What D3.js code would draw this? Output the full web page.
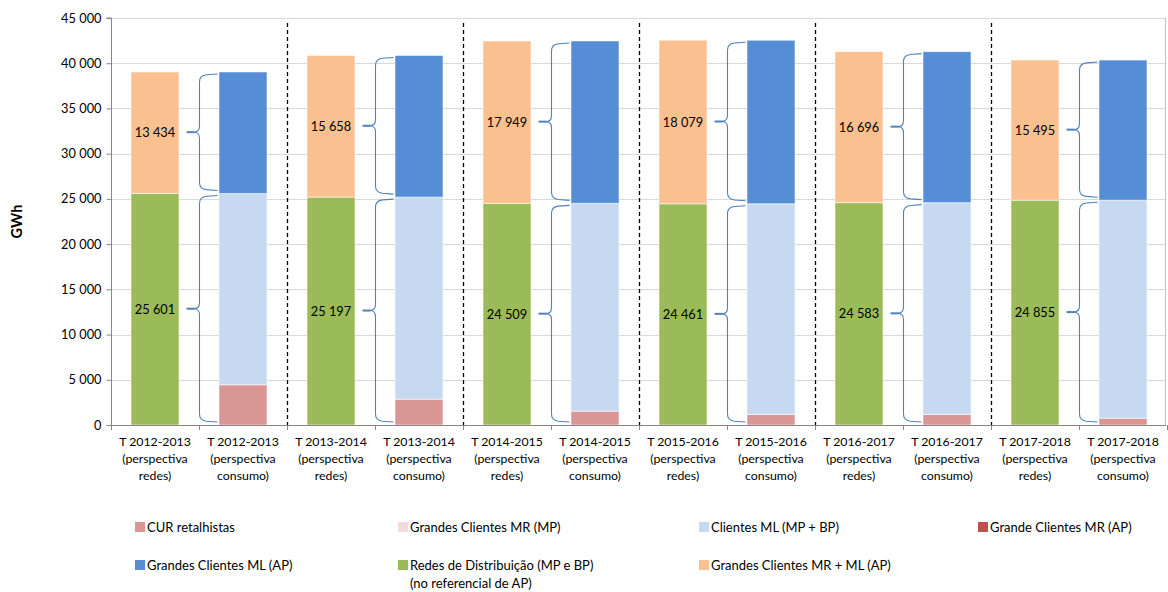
<!DOCTYPE html>
<html>
<head>
<meta charset="utf-8">
<script src="https://cdn.jsdelivr.net/npm/d3@7"></script>
<style>
  html, body { margin: 0; padding: 0; background: #fff; }
  svg { display: block; font-family: Lato, "Noto Sans", sans-serif; }
</style>
</head>
<body>
<svg id="chart" width="1168" height="592"></svg>
<script>
// Tariff periods
const periods = ["2012-2013", "2013-2014", "2014-2015", "2015-2016", "2016-2017", "2017-2018"];
// Network perspective (GWh)
const redesDistribuicao = [25601, 25197, 24509, 24461, 24583, 24855];
const grandesClientesMRML = [13434, 15658, 17949, 18079, 16696, 15495];
// Consumption perspective (GWh)
const curRetalhistas = [4450, 2850, 1530, 1160, 1160, 750];
const grandesClientesMRMP = [0, 0, 0, 0, 0, 0];
const clientesML = [21151, 22347, 22979, 23301, 23423, 24105];
const grandeClientesMRAP = [0, 0, 0, 0, 0, 0];
const grandesClientesMLAP = [13434, 15658, 17949, 18079, 16696, 15495];
// Axis ticks
const yTicks = [0, 5000, 10000, 15000, 20000, 25000, 30000, 35000, 40000, 45000];

const colors = {
  cur: "#D99694",
  mrmp: "#F2DCDB",
  ml: "#C6D9F1",
  mrap: "#C0504D",
  mlap: "#558ED5",
  redes: "#9BBB59",
  mrml: "#FAC090"
};

const legendItems = [
  { label: ["CUR retalhistas"], color: colors.cur },
  { label: ["Grandes Clientes MR (MP)"], color: colors.mrmp },
  { label: ["Clientes ML (MP + BP)"], color: colors.ml },
  { label: ["Grande Clientes MR (AP)"], color: colors.mrap },
  { label: ["Grandes Clientes ML (AP)"], color: colors.mlap },
  { label: ["Redes de Distribuição (MP e BP)", "(no referencial de AP)"], color: colors.redes },
  { label: ["Grandes Clientes MR + ML (AP)"], color: colors.mrml }
];

const svg = d3.select("#chart");
const plotLeft = 111, plotRight = 1167, plotTop = 18, plotBottom = 425;

// One category per perspective: redes then consumo for each period
const categories = [];
periods.forEach((p, i) => {
  categories.push({ key: p + "-r", period: p, kind: "redes", i });
  categories.push({ key: p + "-c", period: p, kind: "consumo", i });
});

const x = d3.scaleBand()
  .domain(categories.map(d => d.key))
  .range([plotLeft, plotRight])
  .paddingInner(0.4545)
  .paddingOuter(0.2273);
const step = x.step();
const y = d3.scaleLinear().domain([0, 45000]).range([plotBottom, plotTop]);
const fmt = v => d3.format(",")(v).replace(/,/g, " ");

// Gridlines
svg.append("g")
  .selectAll("line")
  .data(yTicks.filter(t => t > 0))
  .join("line")
  .attr("x1", plotLeft).attr("x2", plotRight - 1)
  .attr("y1", d => Math.round(y(d)) + 0.5).attr("y2", d => Math.round(y(d)) + 0.5)
  .attr("stroke", "#D9D9D9").attr("stroke-width", 1);

// Right border of plot area
svg.append("line")
  .attr("x1", plotRight - 1.5).attr("x2", plotRight - 1.5)
  .attr("y1", y(45000)).attr("y2", plotBottom)
  .attr("stroke", "#BFBFBF");

// Stacked bars
const stacks = [];
categories.forEach(c => {
  const i = c.i;
  const parts = c.kind === "redes"
    ? [["redes", redesDistribuicao[i]], ["mrml", grandesClientesMRML[i]]]
    : [["cur", curRetalhistas[i]], ["mrmp", grandesClientesMRMP[i]], ["ml", clientesML[i]],
       ["mrap", grandeClientesMRAP[i]], ["mlap", grandesClientesMLAP[i]]];
  let base = 0;
  parts.forEach(([k, v]) => {
    if (v > 0) stacks.push({ key: c.key, series: k, y0: base, y1: base + v });
    base += v;
  });
});

svg.append("g")
  .selectAll("rect")
  .data(stacks)
  .join("rect")
  .attr("x", d => x(d.key))
  .attr("width", x.bandwidth())
  .attr("y", d => y(d.y1))
  .attr("height", d => y(d.y0) - y(d.y1))
  .attr("fill", d => colors[d.series])
  .attr("stroke", "#ffffff")
  .attr("stroke-opacity", 0.55)
  .attr("stroke-width", 1);

// Dashed separators between periods
const sepX = d => Math.round(x(d + "-r") - (step - x.bandwidth()) / 2) + 0.5;
svg.append("g")
  .selectAll("line")
  .data(periods.slice(1))
  .join("line")
  .attr("x1", sepX)
  .attr("x2", sepX)
  .attr("y1", 23).attr("y2", plotBottom)
  .attr("stroke", "#000").attr("stroke-width", 1.3)
  .attr("stroke-dasharray", "4,3");

// Y axis
const yAxis = d3.axisLeft(y).tickValues(yTicks).tickSize(5).tickPadding(5).tickFormat(fmt);
const gy = svg.append("g").attr("transform", `translate(${plotLeft + 0.5},0)`).call(yAxis);
gy.select(".domain").attr("stroke", "#868686").attr("d", `M-5,${y(45000)}H0V${plotBottom}`);
gy.selectAll(".tick line").attr("stroke", "#868686");
gy.selectAll(".tick text").attr("font-size", 12.8).attr("fill", "#000")
  .attr("font-family", "Lato, sans-serif");

// X axis line and boundary ticks
const gx = svg.append("g");
gx.append("line").attr("x1", plotLeft).attr("x2", plotRight - 1)
  .attr("y1", plotBottom + 0.5).attr("y2", plotBottom + 0.5).attr("stroke", "#868686");
gx.selectAll("line.tk")
  .data(d3.range(categories.length + 1))
  .join("line").attr("class", "tk")
  .attr("x1", k => Math.round(plotLeft + k * step) + 0.5)
  .attr("x2", k => Math.round(plotLeft + k * step) + 0.5)
  .attr("y1", plotBottom).attr("y2", plotBottom + 5)
  .attr("stroke", "#868686");

// Category labels
const xl = svg.append("g").attr("font-size", 12.3).attr("fill", "#000").attr("text-anchor", "middle");
categories.forEach(c => {
  const cx = x(c.key) + x.bandwidth() / 2;
  const lines = ["T " + c.period, "(perspectiva", c.kind + ")"];
  lines.forEach((t, j) => {
    xl.append("text").attr("x", cx).attr("y", 446 + j * 17).text(t);
  });
});

// Y axis title
svg.append("text")
  .attr("transform", `translate(22,${(plotTop + plotBottom) / 2}) rotate(-90)`)
  .attr("text-anchor", "middle")
  .attr("font-size", 14.5).attr("font-weight", "bold").attr("fill", "#000")
  .text("GWh");

// Value labels inside the network bars
const labels = [];
periods.forEach((p, i) => {
  labels.push({ key: p + "-r", v: redesDistribuicao[i], mid: redesDistribuicao[i] / 2 });
  labels.push({ key: p + "-r", v: grandesClientesMRML[i], mid: redesDistribuicao[i] + grandesClientesMRML[i] / 2 });
});
svg.append("g")
  .selectAll("text")
  .data(labels)
  .join("text")
  .attr("x", d => x(d.key) + x.bandwidth() / 2)
  .attr("y", d => y(d.mid) + 4.5)
  .attr("text-anchor", "middle")
  .attr("font-size", 12.8).attr("fill", "#000")
  .text(d => fmt(d.v));

// Curly braces linking network segments to consumption segments
function bracePath(x0, yTop, yBot) {
  const yMid = (yTop + yBot) / 2;
  const r = 6;
  return `M${x0 + 18},${yTop} L${x0 + 7},${yTop + 0.8} Q${x0},${yTop + 1.5} ${x0},${yTop + r + 2}` +
    ` L${x0},${yMid - r} Q${x0},${yMid} ${x0 - 6},${yMid}` +
    ` M${x0 - 6},${yMid} Q${x0},${yMid} ${x0},${yMid + r}` +
    ` L${x0},${yBot - r - 2} Q${x0},${yBot - 1.5} ${x0 + 7},${yBot - 0.8} L${x0 + 18},${yBot}`;
}
const braces = [];
periods.forEach((p, i) => {
  const tot = redesDistribuicao[i] + grandesClientesMRML[i];
  braces.push({ key: p + "-c", a: 0, b: redesDistribuicao[i] });
  braces.push({ key: p + "-c", a: redesDistribuicao[i], b: tot });
});
const gb = svg.append("g").attr("fill", "none").attr("stroke", "#4F81BD");
braces.forEach(d => {
  const x0 = Math.round(x(d.key) - (step - x.bandwidth()) / 2) + 0.5;
  const yTop = y(d.b) + 2, yBot = y(d.a) - 3;
  gb.append("path").attr("d", bracePath(x0, yTop, yBot)).attr("stroke-width", 1.1);
  const yMid = (yTop + yBot) / 2;
  gb.append("line").attr("x1", x0 - 13).attr("x2", x0 - 5)
    .attr("y1", yMid).attr("y2", yMid).attr("stroke-width", 2);
});

// Legend
const legendPos = [
  [135, 527], [398, 527], [699, 527], [978, 527],
  [135, 565], [398, 565], [699, 565]
];
const lg = svg.append("g").attr("font-size", 13).attr("fill", "#000");
legendItems.forEach((d, k) => {
  const [lx, ly] = legendPos[k];
  lg.append("rect").attr("x", lx).attr("y", ly - 5).attr("width", 10).attr("height", 10).attr("fill", d.color);
  d.label.forEach((t, j) => {
    lg.append("text").attr("x", lx + 12).attr("y", ly + 4.5 + j * 18).text(t);
  });
});
</script>
</body>
</html>
